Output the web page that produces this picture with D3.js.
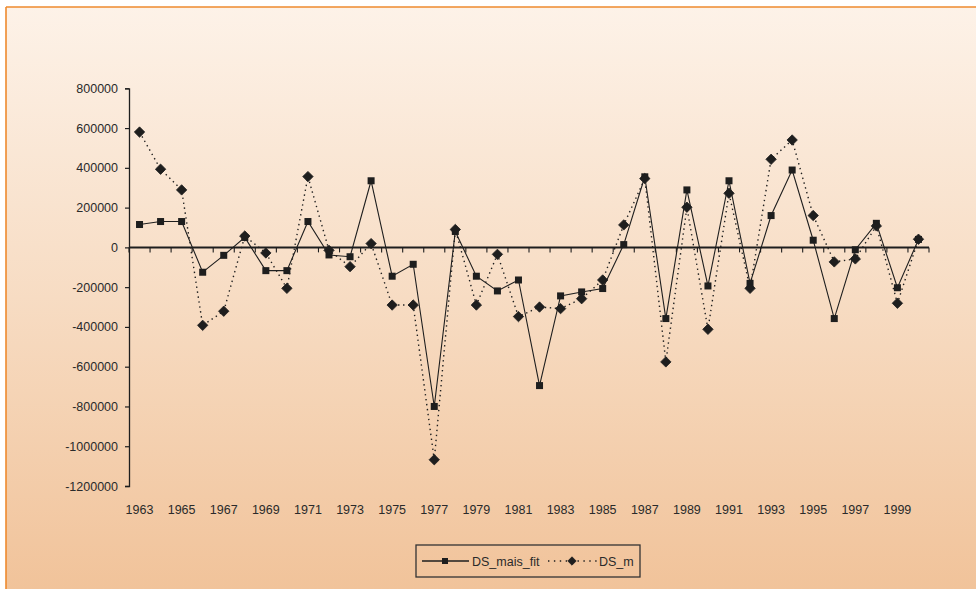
<!DOCTYPE html>
<html>
<head>
<meta charset="utf-8">
<script src="https://cdn.jsdelivr.net/npm/d3@7"></script>
<style>
  html, body { margin: 0; padding: 0; background: #ffffff; }
  svg { display: block; }
  text { font-family: "Liberation Sans", Arial, sans-serif; }
</style>
</head>
<body>
<svg id="chart" width="976" height="589"></svg>
<script>
// Years on the category axis
const years = d3.range(1963, 2001);

// Fitted series (solid line, square markers)
const dsMaisFit = [
  115000, 130000, 130000, -125000, -40000, 50000, -117000, -117000, 130000, -38000,
  -47000, 335000, -145000, -85000, -800000, 80000, -145000, -219000, -164000, -695000,
  -244000, -224000, -207000, 14000, 355000, -358000, 289000, -194000, 335000, -181000,
  160000, 389000, 36000, -358000, -12000, 121000, -203000, 40000
];

// Observed series (dotted line, diamond markers)
const dsM = [
  580000, 393000, 289000, -392000, -321000, 57000, -28000, -206000, 356000, -15000,
  -97000, 19000, -290000, -290000, -1068000, 90000, -290000, -35000, -348000, -300000,
  -308000, -258000, -164000, 113000, 346000, -576000, 202000, -412000, 272000, -206000,
  443000, 540000, 160000, -73000, -58000, 108000, -281000, 41000
];

// Y axis tick values
const yTicks = d3.range(-1200000, 800001, 200000);
// Year labels shown under the plot
const xLabels = years.filter(y => (y - 1963) % 2 === 0 && y < 2000);

const seriesNames = ["DS_mais_fit", "DS_m"];

const svg = d3.select("#chart");
const W = 976, H = 589;

// Background panel with soft peach gradient
const defs = svg.append("defs");
const grad = defs.append("linearGradient")
  .attr("id", "bg").attr("x1", 0).attr("y1", 0).attr("x2", 0).attr("y2", 1);
grad.append("stop").attr("offset", "0%").attr("stop-color", "#fdf2e8");
grad.append("stop").attr("offset", "50%").attr("stop-color", "#f7dcc3");
grad.append("stop").attr("offset", "100%").attr("stop-color", "#f1c39a");

svg.append("rect").attr("x", 0).attr("y", 0).attr("width", W).attr("height", H).attr("fill", "#ffffff");
svg.append("rect").attr("x", 6).attr("y", 7).attr("width", W - 6).attr("height", H - 7).attr("fill", "url(#bg)");
// Orange frame edges
svg.append("line").attr("x1", 6).attr("x2", W).attr("y1", 7).attr("y2", 7)
  .attr("stroke", "#ee8a2e").attr("stroke-width", 1.6);
svg.append("line").attr("x1", 6).attr("x2", 6).attr("y1", 7).attr("y2", H)
  .attr("stroke", "#ee8a2e").attr("stroke-width", 1.6);

// Scales
const x = d3.scaleBand().domain(years).range([129, 929]).paddingInner(0).paddingOuter(0);
const y = d3.scaleLinear().domain([-1200000, 800000]).range([486, 88.3]);
const cx = d => x(d) + x.bandwidth() / 2;

const ink = "#1e1e1e";
const labelColor = "#2a2a2a";

// Plain integer labels with an ASCII hyphen for negatives
const fmt = d => String(Math.round(d));

// Y axis
const yAxis = d3.axisLeft(y).tickValues(yTicks).tickSize(4).tickPadding(7).tickFormat(fmt);
const gy = svg.append("g").attr("transform", "translate(129,0)").call(yAxis);
gy.select(".domain").attr("stroke", ink).attr("stroke-width", 1.3);
gy.selectAll(".tick line").attr("stroke", ink).attr("stroke-width", 1.2);
gy.selectAll(".tick text").attr("fill", labelColor).style("font-size", "12.5px")
  .style("font-family", "'Liberation Sans', Arial, sans-serif");

// X axis along zero line, ticks on category boundaries
const boundaries = years.map(d => x(d)).concat([x(years[years.length - 1]) + x.bandwidth()]);
const gx = svg.append("g");
gx.append("line").attr("x1", 129).attr("x2", 929).attr("y1", y(0)).attr("y2", y(0))
  .attr("stroke", ink).attr("stroke-width", 2);
gx.selectAll("line.tk").data(boundaries).join("line").attr("class", "tk")
  .attr("x1", d => d).attr("x2", d => d)
  .attr("y1", y(0)).attr("y2", y(0) + 5)
  .attr("stroke", ink).attr("stroke-width", 1.1);

// Year labels below the plot area
svg.append("g").selectAll("text").data(xLabels).join("text")
  .attr("x", d => cx(d)).attr("y", 514)
  .attr("text-anchor", "middle")
  .attr("fill", labelColor)
  .style("font-size", "12.5px")
  .text(d => d);

// Lines
const lineGen = d3.line().x((d, i) => cx(years[i])).y(d => y(d));

svg.append("path").datum(dsM)
  .attr("d", lineGen).attr("fill", "none")
  .attr("stroke", ink).attr("stroke-width", 1.4)
  .attr("stroke-dasharray", "1.4,3.6");

svg.append("path").datum(dsMaisFit)
  .attr("d", lineGen).attr("fill", "none")
  .attr("stroke", ink).attr("stroke-width", 1.1);

// Markers
const sq = 7;
svg.append("g").selectAll("rect").data(dsMaisFit).join("rect")
  .attr("x", (d, i) => cx(years[i]) - sq / 2)
  .attr("y", d => y(d) - sq / 2)
  .attr("width", sq).attr("height", sq)
  .attr("fill", ink);

// Square-proportioned diamond marker
const diamondPath = r => `M0,${-r}L${r},0L0,${r}L${-r},0Z`;
svg.append("g").selectAll("path").data(dsM).join("path")
  .attr("d", diamondPath(5.2))
  .attr("transform", (d, i) => `translate(${cx(years[i])},${y(d)})`)
  .attr("fill", ink).attr("stroke", ink).attr("stroke-width", 0.8).attr("stroke-linejoin", "round");

// Legend
const lg = svg.append("g");
lg.append("rect").attr("x", 416).attr("y", 545).attr("width", 224).attr("height", 32)
  .attr("fill", "none").attr("stroke", "#333").attr("stroke-width", 1.3);
lg.append("line").attr("x1", 422).attr("x2", 469).attr("y1", 561).attr("y2", 561)
  .attr("stroke", ink).attr("stroke-width", 1.4);
lg.append("rect").attr("x", 445 - 3).attr("y", 561 - 3).attr("width", 6).attr("height", 6).attr("fill", ink);
lg.append("text").attr("x", 472).attr("y", 565.5).attr("fill", labelColor)
  .style("font-size", "12.5px").text(seriesNames[0]);
lg.append("line").attr("x1", 548).attr("x2", 597).attr("y1", 561).attr("y2", 561)
  .attr("stroke", ink).attr("stroke-width", 1.5).attr("stroke-dasharray", "1.4,4.5");
lg.append("path").attr("d", diamondPath(4.2)).attr("transform", "translate(572,561)")
  .attr("fill", ink).attr("stroke", ink).attr("stroke-width", 0.8);
lg.append("text").attr("x", 599).attr("y", 565.5).attr("fill", labelColor)
  .style("font-size", "12.5px").text(seriesNames[1]);
</script>
</body>
</html>
